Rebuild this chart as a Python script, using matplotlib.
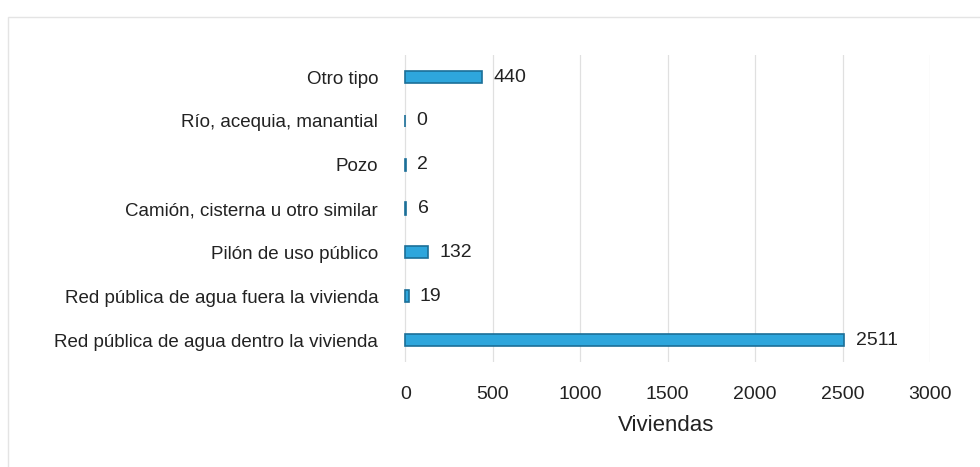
import matplotlib.pyplot as plt
from matplotlib.patches import Rectangle

# categories top to bottom as shown
categorias = ["Otro tipo",
              "Río, acequia, manantial",
              "Pozo",
              "Camión, cisterna u otro similar",
              "Pilón de uso público",
              "Red pública de agua fuera la vivienda",
              "Red pública de agua dentro la vivienda"]
viviendas = [440, 0, 2, 6, 132, 19, 2511]
ticks_x = [0, 500, 1000, 1500, 2000, 2500, 3000]

plt.rcParams['font.family'] = ['Liberation Sans', 'DejaVu Sans']

fig = plt.figure(figsize=(9.8, 4.67), dpi=100)
ax = fig.add_axes([0.41, 0.225, 0.539, 0.657])

# faint frame around the chart area
fig.patches.append(Rectangle((0.008, -0.05), 1.2, 1.0135, transform=fig.transFigure,
                             fill=False, edgecolor='#e4e4e4', linewidth=1))

y = list(range(len(categorias)))[::-1]
ax.barh(y, viviendas, height=0.28, color='#2ea6dc', edgecolor='#1b6f98', linewidth=1.2, zorder=3)

for yi, v in zip(y, viviendas):
    ax.text(v + 65, yi, str(v), va='center', ha='left', fontsize=14, color='#222222')

ax.set_xlim(-20, 3000)
ax.set_ylim(-0.5, len(categorias) - 0.5)
ax.set_yticks(y)
ax.set_yticklabels(categorias, fontsize=13.5, color='#222222')
ax.set_xticks(ticks_x)
ax.set_xticklabels([str(t) for t in ticks_x], fontsize=14, color='#222222')
ax.tick_params(axis='both', length=0)
ax.tick_params(axis='y', pad=17)
ax.tick_params(axis='x', pad=17)
ax.xaxis.grid(True, color='#e0e0e0', linewidth=0.9)
ax.set_axisbelow(True)
for s in ax.spines.values():
    s.set_visible(False)
ax.set_xlabel("Viviendas", fontsize=16, color='#222222', labelpad=9)

fig.savefig("out.png", dpi=100, facecolor='white')
